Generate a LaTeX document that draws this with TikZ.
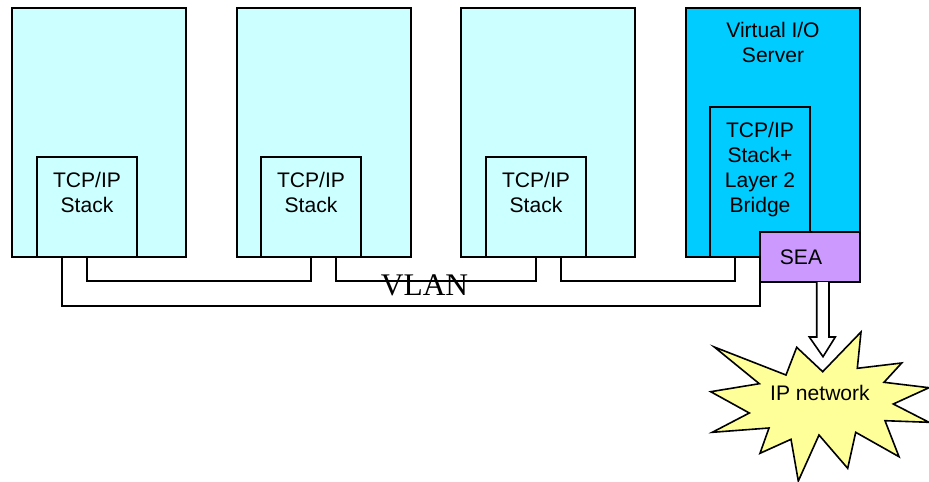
\documentclass[tikz,border=0pt]{standalone}
\usepackage{fontspec}
\setmainfont{Liberation Sans}
\newfontfamily\vlanfont{Liberation Serif}
\usetikzlibrary{calc}
\definecolor{hostcyan}{RGB}{204,255,255}
\definecolor{vioblue}{RGB}{0,204,255}
\definecolor{seapurple}{RGB}{204,153,255}
\definecolor{netyellow}{RGB}{255,255,153}

\begin{document}
\begin{tikzpicture}[
  x=0.75pt, y=-0.75pt,
  line width=1.4pt,
  txt/.style={font=\fontsize{15.8}{18.75}\selectfont, align=center, inner sep=0pt},
  box/.style={txt, draw=black, outer sep=0pt, minimum width=#1},
  host/.style={box=130.5pt, minimum height=186.75pt, fill=hostcyan},
  stackbox/.style={box=75pt, minimum height=75pt, fill=hostcyan},
  link/.style={draw=black, line width=1.2pt},
]
\useasboundingbox (0,0) rectangle (929,482);

\foreach \n/\x in {A/99,B/324,C/548} { \node[host] (host\n) at (\x,132.5) {}; }
\node[host, fill=vioblue] (vios) at (773,132.5) {};
\node[txt] (viosname) at (773,42.5) {Virtual I/O\\Server};

\foreach \n/\x in {A/87,B/311,C/536} {
  \node[stackbox] (stack\n) at (\x,207) {TCP/IP\\Stack\\[-3pt]\strut};
}
\node[stackbox, minimum height=112.5pt, fill=vioblue] (bridge) at (760,182) {TCP/IP\\Stack+\\Layer 2\\Bridge\\[-2pt]\strut};
\node[box=75pt, minimum height=37.5pt, fill=seapurple] (sea) at (810,257) {SEA\hspace*{13.5pt}};

% VLAN wiring
\draw[link] ($(stackA.south west)!0.25!(stackA.south east)$) -- ++(0,49) -| (sea.south west);
\draw[link] (stackA.south) -- ++(0,24) -| (stackB.south);
\draw[link] ($(stackB.south west)!0.75!(stackB.south east)$) -- ++(0,24) -| (stackC.south);
\draw[link] ($(stackC.south west)!0.75!(stackC.south east)$) -- ++(0,24) -| ($(bridge.south west)!0.25!(bridge.south east)$);
\node[font=\vlanfont\fontsize{23.6}{23.6}\selectfont, inner sep=0pt] (vlan) at (424.5,285) {VLAN};

% uplink to the network
\draw[fill=white, line width=1.2pt] (816.7,282) -- (816.7,337) -- (809.3,337) -- (823,356.7) -- (835.3,337) -- (829,337) -- (829,282);

\draw[fill=netyellow, line width=1.2pt] (714.3,347) -- (786,375) -- (796.7,347.3) -- (822.7,371.7) -- (861,332)
  -- (857.3,368.3) -- (901.7,363) -- (884,382.3) -- (929,387.7) -- (893.3,404) -- (929,422.3) -- (885,420.7)
  -- (899,456.7) -- (855.7,432.3) -- (847.7,468.3) -- (819,435) -- (798.3,481) -- (791,439.3) -- (760,453.3)
  -- (769,428) -- (712.3,432.3) -- (749.3,413) -- (710.7,391.7) -- (759.3,383.7) -- cycle;
\node[txt] (ipnet) at (820,393) {IP network};
\end{tikzpicture}
\end{document}
